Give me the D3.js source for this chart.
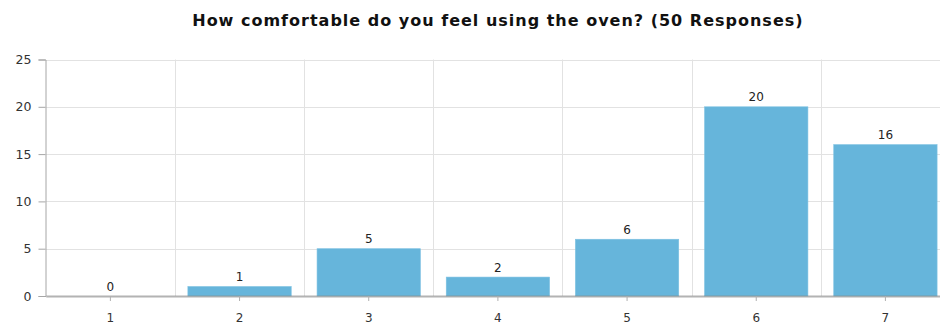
<!DOCTYPE html>
<html>
<head>
<meta charset="utf-8">
<script src="https://cdn.jsdelivr.net/npm/d3@7"></script>
<style>
  html, body { margin: 0; padding: 0; background: #fff; }
  svg { display: block; font-family: "DejaVu Sans", Verdana, sans-serif; }
</style>
</head>
<body>
<svg id="chart" width="940" height="327"></svg>
<script>
// Survey answers on a 1–7 scale and how many respondents picked each
const categories = ["1", "2", "3", "4", "5", "6", "7"];
const counts = [0, 1, 5, 2, 6, 20, 16];
const yTicks = [0, 5, 10, 15, 20, 25];
const title = "How comfortable do you feel using the oven? (50 Responses)";

const svg = d3.select("#chart");

// Plot region (right edge runs past the visible canvas)
const plotLeft = 45.8, plotRight = 950, plotTop = 59.5, plotBottom = 296;

const x = d3.scaleBand()
  .domain(categories)
  .range([plotLeft, plotRight])
  .paddingInner(0.2)
  .paddingOuter(0.1);

const y = d3.scaleLinear()
  .domain([0, 25])
  .range([plotBottom, plotTop]);

// Title
svg.append("text")
  .attr("x", (plotLeft + plotRight) / 2)
  .attr("y", 26)
  .attr("text-anchor", "middle")
  .attr("font-size", 16)
  .attr("letter-spacing", 1)
  .attr("font-weight", "bold")
  .attr("fill", "#111")
  .text(title);

// Horizontal gridlines
svg.append("g")
  .selectAll("line")
  .data(yTicks.filter(d => d > 0))
  .join("line")
  .attr("x1", plotLeft).attr("x2", plotRight)
  .attr("y1", d => Math.round(y(d)) + 0.5)
  .attr("y2", d => Math.round(y(d)) + 0.5)
  .attr("stroke", "#e2e2e2");

// Vertical gridlines at category boundaries
const step = x.step();
svg.append("g")
  .selectAll("line")
  .data(d3.range(1, categories.length))
  .join("line")
  .attr("x1", i => Math.round(plotLeft + i * step) + 0.5)
  .attr("x2", i => Math.round(plotLeft + i * step) + 0.5)
  .attr("y1", plotTop).attr("y2", plotBottom)
  .attr("stroke", "#e2e2e2");

// Bars
svg.append("g")
  .selectAll("rect")
  .data(counts)
  .join("rect")
  .attr("x", (d, i) => x(categories[i]))
  .attr("width", x.bandwidth())
  .attr("y", d => y(d))
  .attr("height", d => y(0) - y(d))
  .attr("fill", "#66b5db")
  .attr("stroke", "#7cc1e2")
  .attr("stroke-width", 0.6);

// Value labels above each bar
svg.append("g")
  .selectAll("text")
  .data(counts)
  .join("text")
  .attr("x", (d, i) => x(categories[i]) + x.bandwidth() / 2)
  .attr("y", d => y(d) - 5.5)
  .attr("text-anchor", "middle")
  .attr("font-size", 12)
  .attr("fill", "#222")
  .text(d => d);

// Y axis
const yAxis = svg.append("g")
  .attr("transform", `translate(${Math.round(plotLeft) - 0.5},0)`)
  .call(d3.axisLeft(y).tickValues(yTicks).tickSize(7).tickPadding(7));
yAxis.select(".domain").attr("stroke", "#a6a6a6");
yAxis.selectAll(".tick line").attr("stroke", "#a6a6a6");
yAxis.selectAll(".tick text")
  .attr("font-size", 12.5)
  .attr("font-family", "DejaVu Sans, Verdana, sans-serif")
  .attr("fill", "#333");

// X axis: translucent 2px baseline so it darkens where it crosses the bars
const xAxis = svg.append("g")
  .attr("transform", `translate(0,${plotBottom})`)
  .call(d3.axisBottom(x).tickSize(5).tickPadding(12).tickSizeOuter(0));
xAxis.select(".domain")
  .attr("stroke", "#808080")
  .attr("stroke-opacity", 0.6)
  .attr("stroke-width", 2);
xAxis.selectAll(".tick line").attr("stroke", "#b0b0b0");
xAxis.selectAll(".tick text")
  .attr("font-size", 12)
  .attr("font-family", "DejaVu Sans, Verdana, sans-serif")
  .attr("fill", "#333");
</script>
</body>
</html>
